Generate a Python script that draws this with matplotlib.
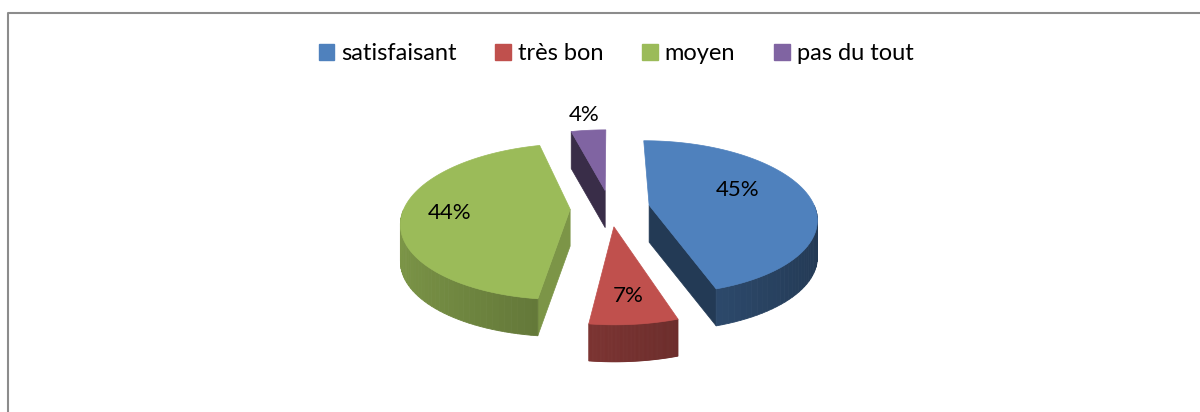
import numpy as np
import matplotlib.pyplot as plt
from matplotlib.patches import Polygon, Patch
from matplotlib.colors import to_rgb

labels = ['satisfaisant', 'très bon', 'moyen', 'pas du tout']
values = [45, 7, 44, 4]
colors = ['#4F81BD', '#C0504D', '#9BBB59', '#8064A2']

# layout of the 3d pie, in pixels
cx, cy = 610, 208
rx, ry = 166, 75.6
depth = 37
persp = 0.16
explode = 0.24
lab_r = [0.6, 0.75, 0.72, 1.3]
lab_dphi = [11, 0, 0, 0]

plt.rcParams['font.family'] = ['Lato', 'DejaVu Sans']
fig = plt.figure(figsize=(12, 4.12), dpi=100)
ax = fig.add_axes([0, 0, 1, 1])
ax.set_xlim(0, 1200)
ax.set_ylim(412, 0)
ax.axis('off')


def proj(u, v):
    s = 1 / (1 + persp * v)
    return cx + rx * u * s, cy - ry * v * s


def shade(c, f):
    r, g, b = to_rgb(c)
    return (min(r * f, 1), min(g * f, 1), min(b * f, 1))


total = sum(values)
slices = []
a0 = 0
for i, (val, col) in enumerate(zip(values, colors)):
    a1 = a0 + 360 * val / total
    hi = np.radians(90 - a0)
    lo = np.radians(90 - a1)
    mid = (hi + lo) / 2
    eu, ev = explode * np.cos(mid), explode * np.sin(mid)
    slices.append((ev, i, hi, lo, mid, eu, col))
    a0 = a1

# back slices first
for ev, i, hi, lo, mid, eu, col in sorted(slices, reverse=True):
    phis = np.linspace(hi, lo, 80)
    apex = proj(eu, ev)
    rim = [proj(eu + np.cos(p), ev + np.sin(p)) for p in phis]

    # radial faces
    for phi, n, r in [(hi, hi + np.pi / 2, rim[0]), (lo, lo - np.pi / 2, rim[-1])]:
        if np.sin(n) < -0.01:
            f = 0.62 + 0.18 * np.cos(n)
            quad = [apex, r, (r[0], r[1] + depth), (apex[0], apex[1] + depth)]
            ax.add_patch(Polygon(quad, closed=True, fc=shade(col, f), ec=shade(col, f), lw=0.5))

    # outer wall, only the front part
    for k in range(len(phis) - 1):
        pm = (phis[k] + phis[k + 1]) / 2
        if np.sin(pm) < 0:
            f = 0.62 - 0.18 * np.cos(pm)
            p1, p2 = rim[k], rim[k + 1]
            quad = [p1, p2, (p2[0], p2[1] + depth), (p1[0], p1[1] + depth)]
            ax.add_patch(Polygon(quad, closed=True, fc=shade(col, f), ec=shade(col, f), lw=0.6))

    # top face
    ax.add_patch(Polygon([apex] + rim, closed=True, fc=col, ec=col, lw=0.5))

    # data label
    lp = mid + np.radians(lab_dphi[i])
    tx, ty = proj(eu + lab_r[i] * np.cos(lp), ev + lab_r[i] * np.sin(lp))
    ax.text(tx, ty, f'{values[i]}%', ha='center', va='center', fontsize=16, color='black')

# chart frame (top and left edges only visible)
ax.plot([8, 8, 1200], [412, 13, 13], color='#8c8c8c', lw=1.5, solid_capstyle='butt')

handles = [Patch(facecolor=c, edgecolor=c) for c in colors]
fig.legend(handles, labels, loc='center', bbox_to_anchor=(616 / 1200, 1 - 54 / 412),
           ncol=4, frameon=False, fontsize=17, handlelength=0.65, handleheight=0.65,
           handletextpad=0.3, columnspacing=1.65)

fig.savefig('out.png', dpi=100, facecolor='white')
